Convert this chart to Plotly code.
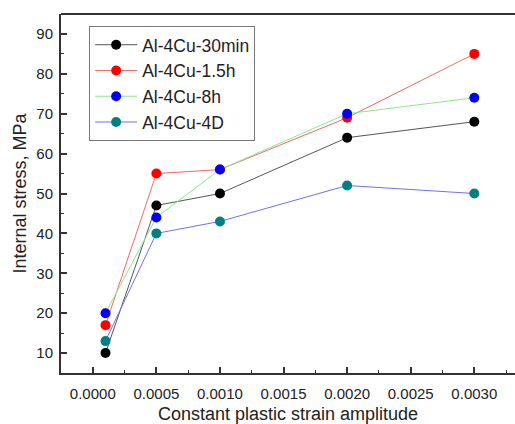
import plotly.graph_objects as go

strain = [0.0001, 0.0005, 0.0010, 0.0020, 0.0030]
s_30min = [10, 47, 50, 64, 68]
s_15h = [17, 55, 56, 69, 85]
s_8h = [20, 44, 56, 70, 74]
s_4d = [13, 40, 43, 52, 50]

series = [
    ("Al-4Cu-30min", s_30min, "#555555", "#000000"),
    ("Al-4Cu-1.5h", s_15h, "#f06a6a", "#ff0000"),
    ("Al-4Cu-8h", s_8h, "#8ee88e", "#0000ff"),
    ("Al-4Cu-4D", s_4d, "#7070f0", "#008080"),
]

fig = go.Figure()
for name, ys, lc, mc in series:
    fig.add_trace(go.Scatter(
        x=strain, y=ys, name=name, mode="lines+markers",
        line=dict(color=lc, width=1),
        marker=dict(color=mc, size=10, line=dict(width=0)),
    ))

font = "Liberation Sans, Arial, sans-serif"
fig.update_layout(
    width=515, height=424,
    margin=dict(l=61, r=0, t=14, b=51, autoexpand=False),
    plot_bgcolor="white", paper_bgcolor="white",
    font=dict(family=font, color="#222222", size=15),
    showlegend=True,
    legend=dict(
        x=0.062, y=0.967, xanchor="left", yanchor="top",
        bgcolor="white", bordercolor="#777777", borderwidth=1,
        font=dict(size=17.5, color="#222222"),
        tracegroupgap=0, itemwidth=42,
    ),
    shapes=[dict(type="line", xref="paper", yref="paper", x0=0, x1=1, y0=1, y1=1,
                 line=dict(color="#333", width=2))],
    xaxis=dict(
        range=[-0.00025, 0.00332],
        tickvals=[0, 0.0005, 0.001, 0.0015, 0.002, 0.0025, 0.003],
        ticktext=["0.0000", "0.0005", "0.0010", "0.0015", "0.0020", "0.0025", "0.0030"],
        ticks="inside", ticklen=6, tickwidth=1.5, tickcolor="#333",
        ticklabelstandoff=6,
        showline=True, linewidth=2, linecolor="#333",
        showgrid=False, zeroline=False, automargin=False,
        minor=dict(dtick=0.00025, tick0=0, ticks="inside", ticklen=3, tickcolor="#333", tickwidth=1),
        title=dict(text="Constant plastic strain amplitude", font=dict(size=18), standoff=12),
    ),
    yaxis=dict(
        range=[5, 95],
        tickvals=[10, 20, 30, 40, 50, 60, 70, 80, 90],
        ticks="inside", ticklen=6, tickwidth=1.5, tickcolor="#333",
        ticklabelstandoff=3,
        showline=True, linewidth=2, linecolor="#333",
        showgrid=False, zeroline=False, automargin=False,
        minor=dict(dtick=5, tick0=5, ticks="inside", ticklen=3, tickcolor="#333", tickwidth=1),
        title=dict(text="Internal stress, MPa", font=dict(size=18), standoff=5),
    ),
)

fig.write_html("out.html", config={"displayModeBar": False},
               post_script="document.body.style.margin='0';document.body.style.padding='0';")
